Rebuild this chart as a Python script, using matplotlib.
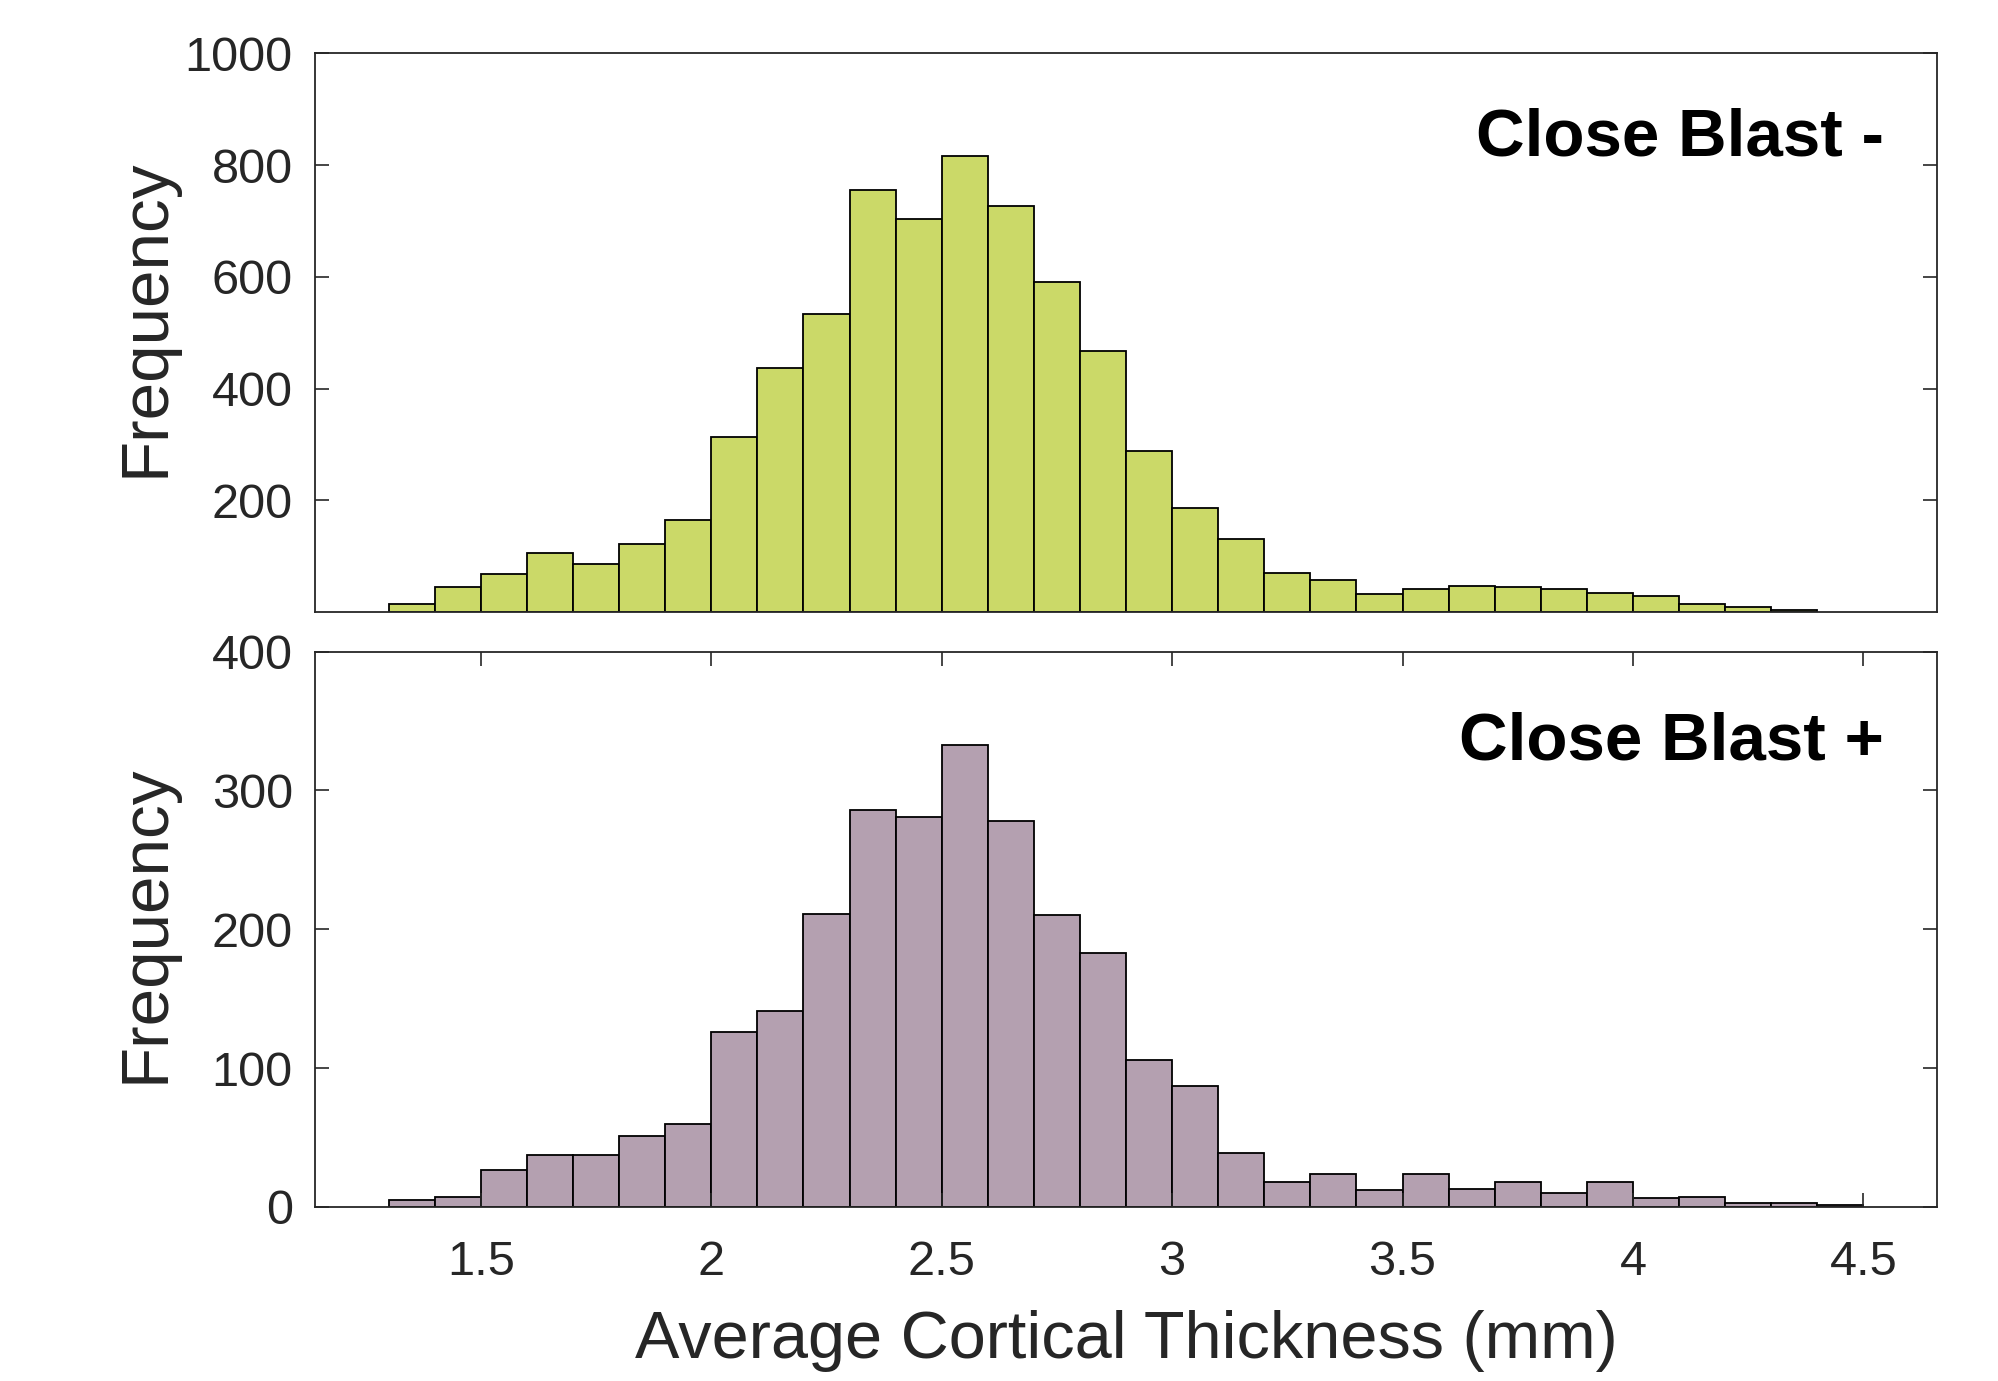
import numpy as np
import matplotlib
matplotlib.use("Agg")
import matplotlib.pyplot as plt

# bin edges (mm), 0.1 mm wide
edges_minus = np.round(np.arange(1.3, 4.4001, 0.1), 2)
edges_plus = np.round(np.arange(1.3, 4.5001, 0.1), 2)

# counts
counts_minus = [15, 44, 68, 105, 86, 122, 164, 314, 437, 534, 756, 703, 816, 726,
                591, 467, 288, 186, 130, 70, 58, 32, 41, 47, 44, 41, 33, 29, 14, 9, 3]
counts_plus = [5, 7.5, 27, 37.5, 37.5, 51, 60, 126, 141, 211, 286, 281, 333, 278,
               210, 183, 106, 87, 39, 18, 24, 12, 24, 13, 18, 10, 18, 6.5, 7.5, 3, 3, 1.5]

labels = ["Close Blast -", "Close Blast +"]
colors = ["#CBD968", "#B4A0B0"]
ylims = [1000, 400]
yticks_list = [[200, 400, 600, 800, 1000], [0, 100, 200, 300, 400]]
xticks = [1.5, 2, 2.5, 3, 3.5, 4, 4.5]
xtick_labels = ["1.5", "2", "2.5", "3", "3.5", "4", "4.5"]

plt.rcParams['font.family'] = ['Liberation Sans', 'DejaVu Sans']
dark = "#262626"

fig = plt.figure(figsize=(19.99, 13.81), dpi=100)
ax_top = fig.add_axes([0.1576, 0.5569, 0.8114, 0.4044])
ax_bot = fig.add_axes([0.1576, 0.1260, 0.8114, 0.4022])

data = [(edges_minus, counts_minus), (edges_plus, counts_plus)]
label_y = [0.527, 0.51]
text_y = [0.847, 0.837]
for i, ax in enumerate([ax_top, ax_bot]):
    edges, counts = data[i]
    ax.hist(edges[:-1], bins=edges, weights=counts, color=colors[i],
            edgecolor="black", linewidth=1.3)
    ax.set_xlim(1.14, 4.66)
    ax.set_ylim(0, ylims[i])
    ax.set_yticks(yticks_list[i])
    ax.tick_params(axis="y", direction="in", length=10, width=1.2, right=True,
                   labelsize=35, labelcolor=dark, color=dark, pad=16)
    for s in ax.spines.values():
        s.set_color(dark)
        s.set_linewidth(1.3)
    ax.set_ylabel("Frequency", fontsize=48.5, color=dark)
    ax.yaxis.set_label_coords(-0.0845, label_y[i])
    ax.text(0.967, text_y[i], labels[i], transform=ax.transAxes,
            ha="right", va="center", fontsize=48.5, fontweight="bold", color="black")

ax_top.set_xticks([])
ax_bot.set_xticks(xticks)
ax_bot.set_xticklabels(xtick_labels)
ax_bot.tick_params(axis="x", direction="in", length=10, width=1.2, top=True,
                   labelsize=35, labelcolor=dark, color=dark, pad=24)
ax_bot.set_xlabel("Average Cortical Thickness (mm)", fontsize=48, color=dark)
ax_bot.xaxis.set_label_coords(0.5, -0.185)

fig.savefig("out.png", dpi=100)
